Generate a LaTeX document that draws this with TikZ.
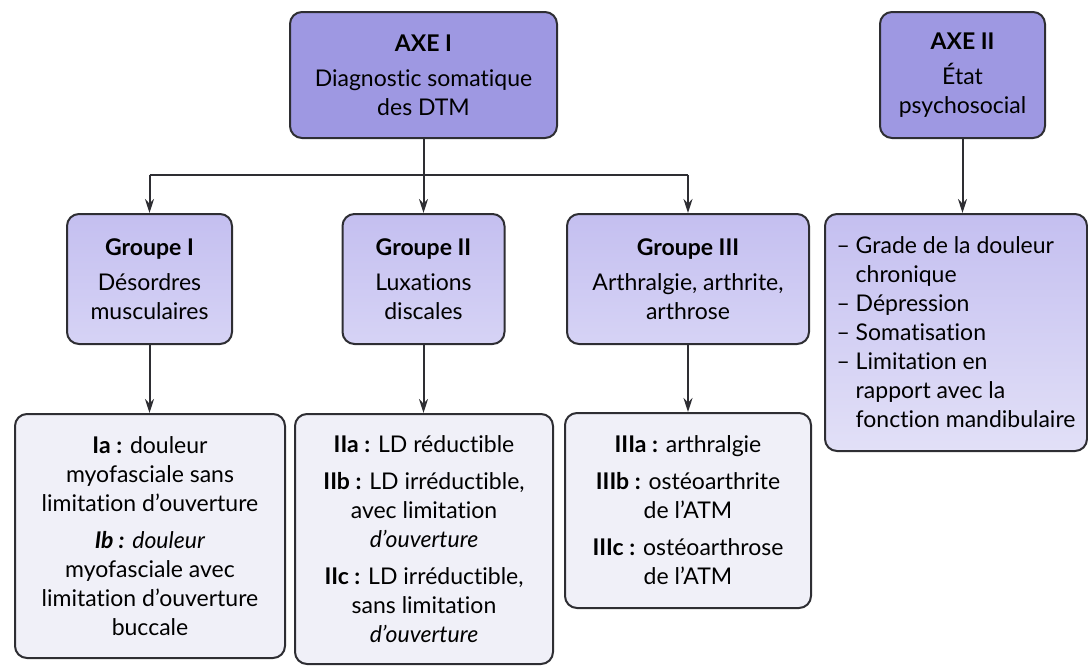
\documentclass[tikz,border=0pt]{standalone}
\usepackage{fontspec}
\setmainfont{Lato}[Ligatures = NoCommon]
\usepackage{xcolor}
\usetikzlibrary{arrows.meta}

\definecolor{axefill}{HTML}{9E98E2}
\definecolor{grptop}{HTML}{C4BFF0}
\definecolor{grpbot}{HTML}{D6D3F5}
\definecolor{psybot}{HTML}{E2E0F7}
\definecolor{subfill}{HTML}{F0F0F8}
\definecolor{edge}{HTML}{2E2E33}

\tikzset{
	box/.style = {draw = edge, line width = 1pt, rounded corners = 6pt, align = center,
		inner sep = 0pt, font = \fontsize{11.5}{14.5}\selectfont},
	axebox/.style = {box, fill = axefill},
	grpbox/.style = {box, top color = grptop, bottom color = grpbot},
	subbox/.style = {box, fill = subfill},
	link/.style = {draw = edge, line width = 1pt},
	arr/.style = {link, -{Stealth[length = 7pt, width = 4.5pt]}}
}

\begin{document}
\begin{tikzpicture}[x = 0.5pt, y = -0.5pt]
		\def\px{0.5pt};
		\def\bus{175};

		\useasboundingbox (0,0) rectangle (1088,666);

		% les deux axes
		\node [axebox, minimum width = 267*\px, minimum height = 126*\px] (axeI) at (423.5,75)
			{\textbf{AXE I}\\[3pt] Diagnostic somatique\\ des DTM};
		\node [axebox, minimum width = 165*\px, minimum height = 126*\px] (axeII) at (962.5,75)
			{\textbf{AXE II}\\[3pt] État\\ psychosocial};

		% groupes
		\node [grpbox, minimum width = 165*\px, minimum height = 130*\px] (grpI) at (149.5,279)
			{\textbf{Groupe I}\\[3pt] Désordres\\ musculaires};
		\node [grpbox, minimum width = 162*\px, minimum height = 130*\px] (grpII) at (423.5,279)
			{\textbf{Groupe II}\\[3pt] Luxations\\ discales};
		\node [grpbox, minimum width = 242*\px, minimum height = 130*\px] (grpIII) at (688,279)
			{\textbf{Groupe III}\\[3pt] Arthralgie, arthrite,\\ arthrose};
		\node [grpbox, align = left, minimum width = 262*\px, minimum height = 237*\px,
			bottom color = psybot] (psy) at (956,332.5)
			{– Grade de la douleur\\ \hphantom{– }chronique\\ – Dépression\\ – Somatisation\\
			 – Limitation en\\ \hphantom{– }rapport avec la\\ \hphantom{– }fonction mandibulaire};

		% sous-groupes
		\node [subbox, minimum width = 270*\px, minimum height = 244*\px] (subI) at (150,536)
			{\textbf{Ia :} douleur\\ myofasciale sans\\ limitation d’ouverture\\[4pt]
			 \textbf{\textit{Ib :}} \textit{douleur}\\ myofasciale avec\\ limitation d’ouverture\\ buccale};
		\node [subbox, minimum width = 258*\px, minimum height = 250*\px] (subII) at (424,539)
			{\textbf{IIa :} LD réductible\\[4pt] \textbf{IIb :} LD irréductible,\\ avec limitation\\
			 \textit{d’ouverture}\\[4pt] \textbf{IIc :} LD irréductible,\\ sans limitation\\ \textit{d’ouverture}};
		\node [subbox, minimum width = 246*\px, minimum height = 195*\px] (subIII) at (688,510.5)
			{\textbf{IIIa :} arthralgie\\[4pt] \textbf{IIIb :} ostéoarthrite\\ de l’ATM\\[4pt]
			 \textbf{IIIc :} ostéoarthrose\\ de l’ATM};

		% liaisons
		\coordinate (split) at (423.5,\bus);
		\draw [link] (axeI.south) -- (split);
		\draw [link] (grpI.north |- split) -- (grpIII.north |- split);
		\draw [arr] (grpI.north |- split) -- (grpI.north);
		\draw [arr] (split) -- (grpII.north);
		\draw [arr] (grpIII.north |- split) -- (grpIII.north);
		\draw [arr] (axeII.south) -- (axeII.south |- psy.north);

		\draw [arr] (grpI.south) -- (grpI.south |- subI.north);
		\draw [arr] (grpII.south) -- (grpII.south |- subII.north);
		\draw [arr] (grpIII.south) -- (grpIII.south |- subIII.north);
	\end{tikzpicture}
\end{document}
